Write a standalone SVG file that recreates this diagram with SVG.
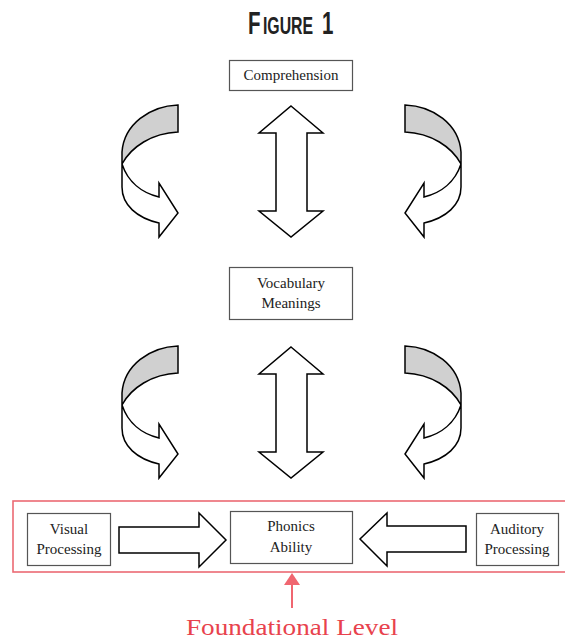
<svg xmlns="http://www.w3.org/2000/svg" width="565" height="640" viewBox="0 0 565 640">
<style>
.box{fill:#fff;stroke:#555;stroke-width:1.2}
.lbl{font-family:"Liberation Serif","Times New Roman",serif;font-size:15px;fill:#222;text-anchor:middle}
.ttl{font-family:"Liberation Sans",Arial,sans-serif;font-weight:bold;fill:#222}
.arr{fill:#fff;stroke:#000;stroke-width:1.5;stroke-linejoin:miter}
.gray{fill:#d0d0d0;stroke:#000;stroke-width:1.5}
.red{stroke:#eb6a73;fill:none;stroke-width:1.6}
</style>
<defs>
<g id="curl">
<path class="gray" d="M178,105 L178,132 C152,133 131,147 122,164 L122,152 C124,124 150,106 178,105 Z"/>
<path class="arr" d="M122,164 C128,182 142,193 159,197 L159,183 L178,213 L159,237 L159,223 C137,218 122,205 122,187 Z"/>
</g>
<path id="dbl" d="M291,106 L323,133 L307,133 L307,211 L323,211 L291,237 L259,211 L276,211 L276,133 L259,133 Z"/>
</defs>
<rect width="565" height="640" fill="#fff"/>
<g id="title" transform="translate(248,34) scale(0.66,1)">
<text class="ttl" x="0" y="0" font-size="31">F</text>
<text class="ttl" x="22.7" y="0" font-size="24">IGURE</text>
<text class="ttl" x="112" y="0" font-size="31">1</text>
</g>
<g id="connectors">
<use href="#curl"/>
<use href="#curl" transform="translate(583,0) scale(-1,1)"/>
<use href="#dbl" class="arr"/>
<use href="#curl" transform="translate(0,241)"/>
<use href="#curl" transform="translate(583,241) scale(-1,1)"/>
<use href="#dbl" class="arr" transform="translate(0,241)"/>
<path class="arr" d="M119,527 L199,527 L199,513 L226,540 L199,567 L199,553 L119,553 Z"/>
<path class="arr" d="M466,526 L387,526 L387,513 L360,539 L387,566 L387,552 L466,552 Z"/>
</g>
<g id="foundational">
<rect class="red" x="13" y="501" width="560" height="71"/>
<line x1="292" y1="583" x2="292" y2="608" stroke="#f06670" stroke-width="2"/>
<polygon points="292,573 284,585 300,585" fill="#f06670"/>
<text x="292" y="635" font-family="Liberation Serif, Times New Roman, serif" font-size="24" fill="#e8424d" text-anchor="middle" textLength="212" lengthAdjust="spacingAndGlyphs">Foundational Level</text>
</g>
<g id="comprehension">
<rect class="box" x="229.5" y="60.5" width="123" height="30"/>
<text class="lbl" x="291" y="80">Comprehension</text>
</g>
<g id="vocabulary">
<rect class="box" x="229.5" y="267.5" width="123" height="52"/>
<text class="lbl" x="291" y="288">Vocabulary</text>
<text class="lbl" x="291" y="308">Meanings</text>
</g>
<g id="visual">
<rect class="box" x="27.5" y="513.5" width="83" height="52"/>
<text class="lbl" x="69" y="534">Visual</text>
<text class="lbl" x="69" y="554">Processing</text>
</g>
<g id="phonics">
<rect class="box" x="230.5" y="511.5" width="122" height="52"/>
<text class="lbl" x="291" y="531">Phonics</text>
<text class="lbl" x="291" y="552">Ability</text>
</g>
<g id="auditory">
<rect class="box" x="476.5" y="513.5" width="82" height="52"/>
<text class="lbl" x="517" y="534">Auditory</text>
<text class="lbl" x="517" y="554">Processing</text>
</g>
</svg>
